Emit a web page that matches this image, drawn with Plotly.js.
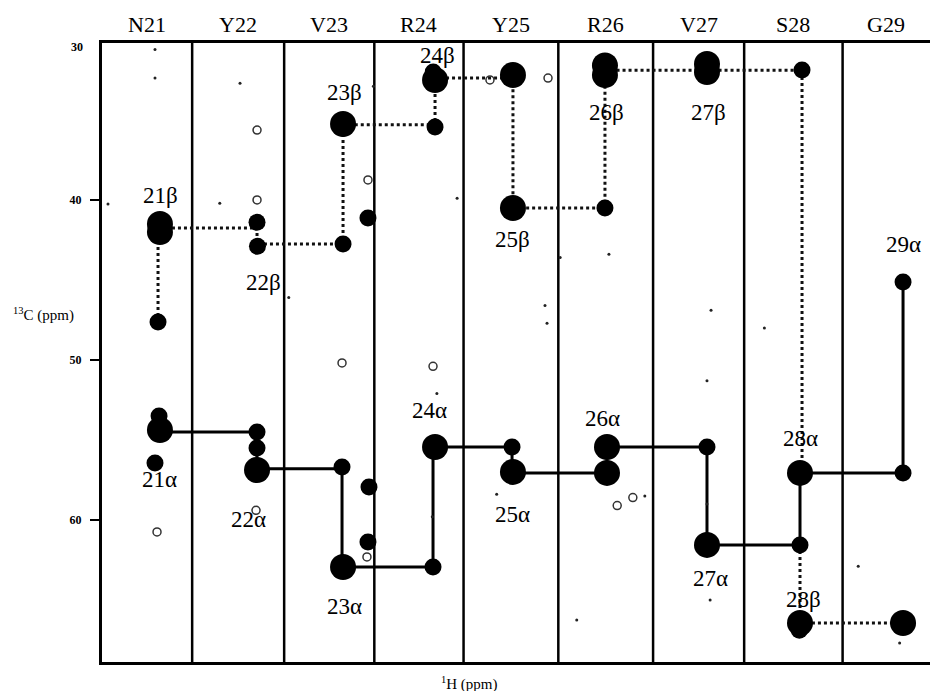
<!DOCTYPE html>
<html>
<head>
<meta charset="utf-8">
<script src="https://cdn.plot.ly/plotly-3.0.1.min.js"></script>
<style>html,body{margin:0;padding:0;background:#fff;}#chart{width:930px;height:691px;}</style>
</head>
<body>
<div id="chart"></div>
<script>
// Residue strips (x in strip units)
const residues = ["N21","Y22","V23","R24","Y25","R26","V27","S28","G29"];
const stripEdges = [0, 0.98, 1.98, 2.96, 3.93, 4.96, 5.99, 6.98, 8.05, 9.0];
const yTicks = [40, 50, 60];
const yRange = [68.88, 30.19];

// Sequential Cα walk (solid) and Cβ walk (dotted)
const alphaPathX = [0.63, 1.685, 1.685, 2.609, 2.609, 3.598, 3.598, 4.457, 4.457, 5.489, 5.489, 6.576, 6.576, 7.587, 7.587, 8.707, 8.707];
const alphaPathY = [54.5, 54.5, 56.8, 56.8, 62.94, 62.94, 55.44, 55.44, 57.06, 57.06, 55.44, 55.44, 61.56, 61.56, 57.06, 57.06, 45.13];
const betaPathX = [0.609, 0.609, 1.685, 1.685, 2.62, 2.62, 3.62, 3.62, 4.467, 4.467, 5.467, 5.467, 7.609, 7.609, null, 7.587, 7.587, 8.707];
const betaPathY = [47.63, 41.75, 41.75, 42.75, 42.75, 35.3, 35.3, 32.38, 32.38, 40.5, 40.5, 31.9, 31.9, 57.06, null, 61.56, 66.44, 66.44];

// Strong cross peaks
const bigPeakX = [0.63, 0.63, 0.63, 1.685, 2.62, 2.62, 3.62, 3.62, 4.467, 4.467, 4.467, 5.467, 5.467, 5.489, 5.489, 6.576, 6.576, 6.576, 7.587, 7.587, 8.707];
const bigPeakY = [41.5, 42.0, 54.38, 56.88, 35.25, 62.94, 32.5, 55.44, 32.19, 40.5, 57.0, 32.19, 31.6, 55.44, 57.06, 31.5, 32.0, 61.56, 57.06, 66.44, 66.44];
// Medium cross peaks
const midPeakX = [0.609, 0.62, 1.685, 1.69, 1.685, 2.62, 2.609, 2.891, 2.902, 2.891, 3.62, 3.598, 4.457, 5.467, 6.576, 7.609, 7.587, 8.707, 8.707, 0.576, 1.685, 7.58, 3.6];
const midPeakY = [47.63, 53.5, 41.4, 42.9, 54.5, 42.75, 56.69, 41.13, 57.94, 61.38, 35.44, 62.94, 55.44, 40.5, 55.44, 31.88, 61.56, 45.13, 57.06, 56.44, 55.5, 66.9, 32.0];
// Weak open contours
const weakPeakX = [0.598, 1.685, 2.891, 4.217, 4.848, 2.609, 3.598, 2.88, 1.674, 5.77, 5.6, 1.685];
const weakPeakY = [60.75, 35.63, 38.75, 32.5, 32.38, 50.19, 50.4, 62.31, 59.4, 58.6, 59.1, 40.0];
// Noise specks
const noiseX = [0.576, 0.576, 1.5, 1.28, 0.065, 2.03, 2.95, 3.86, 4.815, 4.837, 4.98, 3.59, 3.64, 4.29, 5.16, 5.51, 6.62, 6.576, 5.9, 6.61, 8.22, 8.67, 6.576, 7.2];
const noiseY = [32.38, 30.6, 32.7, 40.2, 40.25, 46.1, 32.9, 39.9, 46.6, 47.7, 43.6, 59.8, 52.1, 58.4, 66.25, 43.4, 46.9, 51.3, 58.5, 65.0, 62.9, 67.7, 59.0, 48.0];

// Peak labels
const labelText = ["21β","21α","22β","22α","23β","23α","24β","24α","25β","25α","26β","26α","27β","27α","28α","28β","29α"];
const labelX = [0.64, 0.63, 1.75, 1.587, 2.641, 2.641, 3.652, 3.565, 4.457, 4.457, 5.489, 5.435, 6.587, 6.609, 7.587, 7.62, 8.707];
const labelY = [39.75, 57.5, 45.13, 60.0, 33.31, 65.44, 31.0, 53.13, 42.5, 59.69, 34.56, 53.63, 34.56, 63.63, 54.88, 65.0, 42.81];

const sepX = [], sepY = [];
for (let i = 1; i < stripEdges.length - 1; i++) {
  sepX.push(stripEdges[i], stripEdges[i], null);
  sepY.push(yRange[0], yRange[1], null);
}

const serif = "Liberation Serif";
const traces = [
  {x: sepX, y: sepY, mode: "lines", line: {color: "#000", width: 2.5}, hoverinfo: "skip"},
  {x: betaPathX, y: betaPathY, mode: "lines", line: {color: "#111", width: 3, dash: "dot"}, hoverinfo: "skip"},
  {x: alphaPathX, y: alphaPathY, mode: "lines", line: {color: "#000", width: 3}, hoverinfo: "skip"},
  {x: noiseX, y: noiseY, mode: "markers", marker: {color: "#222", size: 3}, hoverinfo: "skip"},
  {x: weakPeakX, y: weakPeakY, mode: "markers", marker: {symbol: "circle-open", color: "#333", size: 8, line: {width: 1.5, color: "#333"}}, hoverinfo: "skip"},
  {x: midPeakX, y: midPeakY, mode: "markers", marker: {color: "#000", size: 17}, hoverinfo: "skip"},
  {x: bigPeakX, y: bigPeakY, mode: "markers", marker: {color: "#000", size: 26}, hoverinfo: "skip"}
];

const annotations = [];
for (let i = 0; i < residues.length; i++) {
  annotations.push({text: residues[i], x: (stripEdges[i] + stripEdges[i+1]) / 2, xref: "x", xanchor: "center", y: 1, yref: "paper",
    yanchor: "bottom", yshift: 4, showarrow: false, font: {family: serif, size: 22, color: "#000"}});
}
for (let i = 0; i < labelText.length; i++) {
  annotations.push({text: labelText[i], x: labelX[i], y: labelY[i], xref: "x", yref: "y", xanchor: "center", yanchor: "middle",
    showarrow: false, font: {family: serif, size: 23, color: "#000"}});
}
annotations.push({text: "<b>30</b>", x: 0, xref: "paper", xanchor: "center", xshift: -25, y: 1, yref: "paper", yanchor: "middle", yshift: -4,
  showarrow: false, font: {family: serif, size: 12, color: "#000"}});
annotations.push({text: "<sup>13</sup>C (ppm)", x: 0, xref: "paper", xanchor: "center", xshift: -59, y: 0.562, yref: "paper", yanchor: "middle",
  showarrow: false, font: {family: serif, size: 15, color: "#000"}});
annotations.push({text: "<sup>1</sup>H (ppm)", x: 0.444, xref: "paper", xanchor: "center", y: -0.0345, yref: "paper", yanchor: "middle",
  showarrow: false, font: {family: serif, size: 15, color: "#000"}});

const layout = {
  width: 930, height: 691,
  margin: {l: 102, r: 0, t: 43, b: 29, pad: 0},
  paper_bgcolor: "#fff", plot_bgcolor: "#fff",
  showlegend: false,
  xaxis: {range: [stripEdges[0], stripEdges[stripEdges.length - 1]], showgrid: false, zeroline: false,
    showticklabels: false, ticks: "", showline: true, mirror: true, linecolor: "#000", linewidth: 3},
  yaxis: {range: yRange, showgrid: false, zeroline: false, tickvals: yTicks, ticktext: yTicks.map(v => "<b>" + v + "</b>"),
    ticks: "outside", ticklen: 9, tickwidth: 2, tickcolor: "#000", ticklabelstandoff: 6,
    tickfont: {family: serif, size: 12, color: "#000"}, showline: true, linecolor: "#000", linewidth: 3},
  annotations: annotations
};

Plotly.newPlot("chart", traces, layout, {staticPlot: true, displayModeBar: false});
</script>
</body>
</html>
